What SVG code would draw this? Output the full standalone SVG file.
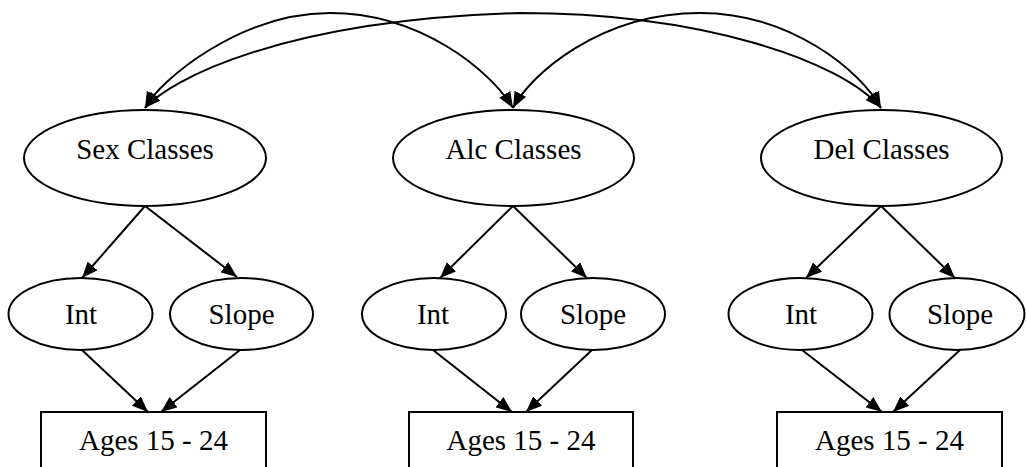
<svg xmlns="http://www.w3.org/2000/svg" width="1026" height="467" viewBox="0 0 1026 467">
  <style>
    .n { fill: #ffffff; stroke: #000000; stroke-width: 2; }
    .t { font-family: "Liberation Serif", "Times New Roman", serif; font-size: 29px; text-anchor: middle; fill: #000000; }
    .e { fill: none; stroke: #000000; stroke-width: 2; marker-end: url(#ah); }
    .b { fill: none; stroke: #000000; stroke-width: 2; marker-start: url(#ah); marker-end: url(#ah); }
  </style>
  <defs>
    <marker id="ah" viewBox="0 0 16 13" refX="16" refY="6.5" markerWidth="16" markerHeight="13" markerUnits="userSpaceOnUse" orient="auto-start-reverse">
      <path d="M0,0 L16,6.5 L0,13 z" fill="#000000"/>
    </marker>
  </defs>
  <rect width="1026" height="467" fill="#ffffff"/>

  <g id="connectors">
    <path class="b" d="M145,108 C160,80 240,13 330,13 C420,13 490,70 513,108"/>
    <path class="b" d="M145,108 C170,80 280,20 520,13 C700,13 840,60 881,108"/>
    <path class="b" d="M513,108 C530,75 600,13 700,13 C790,13 860,70 881,108"/>

    <path class="e" d="M145,206 L82,278"/>
    <path class="e" d="M145,206 L237,277"/>
    <path class="e" d="M82,350 L148,412"/>
    <path class="e" d="M240,350 L161,412"/>

    <path class="e" d="M513,206 L440,278"/>
    <path class="e" d="M513,206 L587,278"/>
    <path class="e" d="M433,350 L512,412"/>
    <path class="e" d="M592,350 L526,412"/>

    <path class="e" d="M881,206 L806,278"/>
    <path class="e" d="M881,206 L955,278"/>
    <path class="e" d="M802,350 L882,412"/>
    <path class="e" d="M960,350 L893,412"/>
  </g>

  <g id="sex_classes">
    <ellipse class="n" cx="145" cy="158" rx="121" ry="48"/>
    <text class="t" x="145" y="159">Sex Classes</text>
  </g>
  <g id="alc_classes">
    <ellipse class="n" cx="513.5" cy="158" rx="120.5" ry="48"/>
    <text class="t" x="513.5" y="159">Alc Classes</text>
  </g>
  <g id="del_classes">
    <ellipse class="n" cx="881.5" cy="158" rx="120.5" ry="48"/>
    <text class="t" x="881.5" y="159">Del Classes</text>
  </g>

  <g id="sex_int">
    <ellipse class="n" cx="80.5" cy="314" rx="72" ry="36"/>
    <text class="t" x="81" y="324">Int</text>
  </g>
  <g id="sex_slope">
    <ellipse class="n" cx="241.5" cy="314" rx="71.5" ry="36"/>
    <text class="t" x="241.5" y="324">Slope</text>
  </g>
  <g id="alc_int">
    <ellipse class="n" cx="434" cy="314" rx="72" ry="36"/>
    <text class="t" x="433" y="324">Int</text>
  </g>
  <g id="alc_slope">
    <ellipse class="n" cx="593" cy="314" rx="72" ry="36"/>
    <text class="t" x="593" y="324">Slope</text>
  </g>
  <g id="del_int">
    <ellipse class="n" cx="800.5" cy="314" rx="72" ry="36"/>
    <text class="t" x="801" y="324">Int</text>
  </g>
  <g id="del_slope">
    <ellipse class="n" cx="957" cy="314" rx="67.5" ry="36"/>
    <text class="t" x="960" y="324">Slope</text>
  </g>

  <g id="sex_ages">
    <rect class="n" x="41" y="412" width="225" height="70"/>
    <text class="t" x="153.5" y="450">Ages 15 - 24</text>
  </g>
  <g id="alc_ages">
    <rect class="n" x="409" y="412" width="224" height="70"/>
    <text class="t" x="521" y="450">Ages 15 - 24</text>
  </g>
  <g id="del_ages">
    <rect class="n" x="777" y="412" width="225" height="70"/>
    <text class="t" x="889.5" y="450">Ages 15 - 24</text>
  </g>
</svg>
